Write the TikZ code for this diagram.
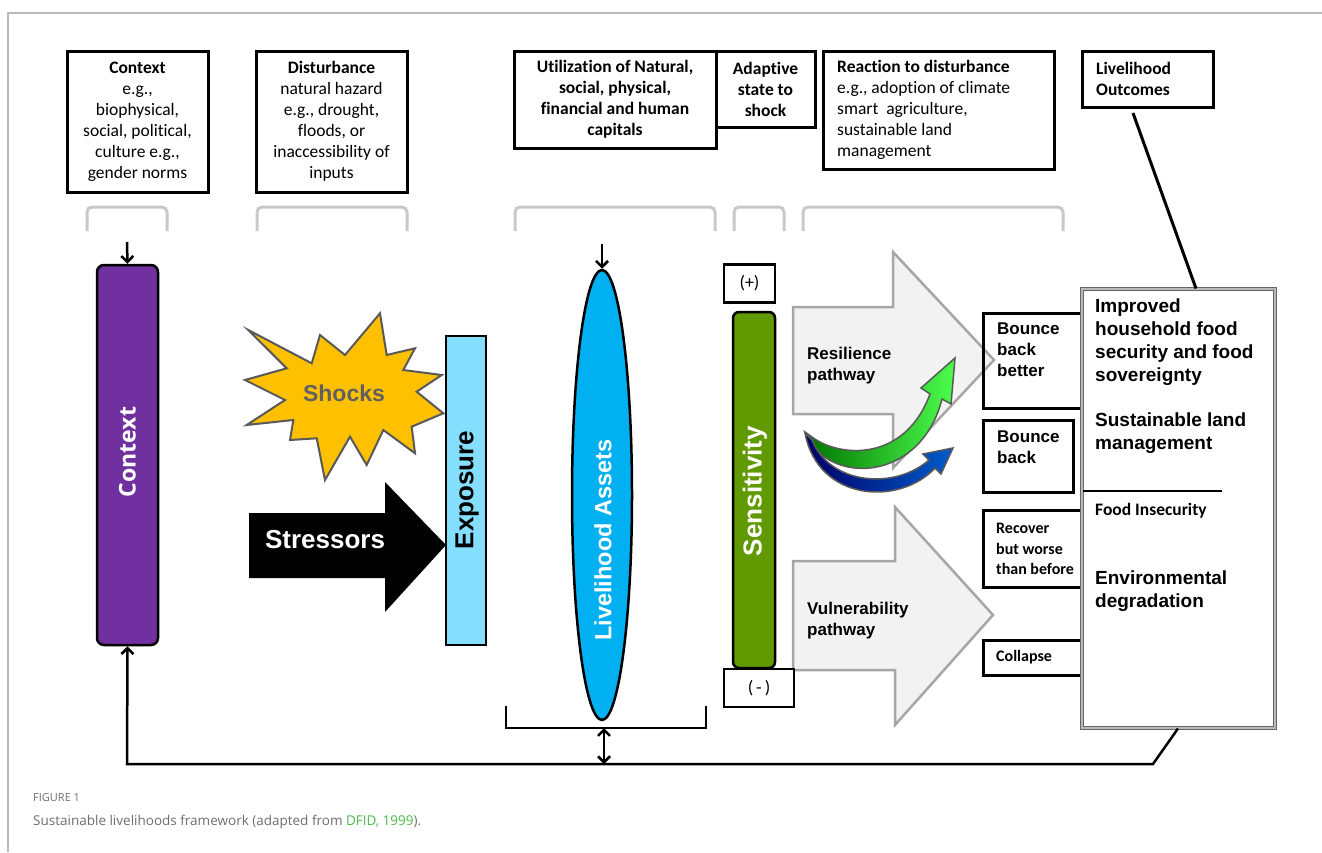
\documentclass[tikz,border=0pt]{standalone}
\usepackage{fontspec}
\setmainfont{Carlito}[Ligatures=NoCommon]
\newfontfamily\ari{Liberation Sans}
\newfontfamily\osn{Open Sans}
\usetikzlibrary{shapes.geometric,arrows.meta}
\definecolor{purp}{HTML}{7030A0}
\definecolor{skyb}{HTML}{00B0F0}
\definecolor{lblue}{HTML}{84DFFE}
\definecolor{olive}{HTML}{609A00}
\definecolor{shockc}{HTML}{FFC000}
\definecolor{pathfill}{HTML}{F2F2F2}
\definecolor{pathdraw}{HTML}{A6A6A6}
\definecolor{brk}{HTML}{C8C8C8}
\definecolor{capgray}{HTML}{6E6E6E}
\definecolor{capgreen}{HTML}{4DB848}
\begin{document}
\begin{tikzpicture}[x=1pt,y=-1pt,
  tbox/.style={draw=black,line width=3pt,inner sep=0pt,font=\fontsize{17.5}{21}\selectfont,align=center},
  ttext/.style={inner sep=0pt,font=\fontsize{17.5}{21}\selectfont,anchor=west,align=left},
  sbox/.style={draw=black,line width=3pt,inner sep=0pt},
  gbr/.style={draw=brk,line width=3pt,rounded corners=5pt},
  arr/.style={line width=2.5pt,-{Straight Barb[length=6pt,width=12pt]}},
  darr/.style={line width=2.5pt,{Straight Barb[length=6pt,width=12pt]}-{Straight Barb[length=6pt,width=12pt]}},
  bigpath/.style={fill=pathfill,draw=pathdraw,line width=2.5pt},
  arb/.style={font=\ari\bfseries\fontsize{17}{21}\selectfont,align=left,anchor=west,inner sep=0pt},
  cab/.style={font=\bfseries\fontsize{16}{20.5}\selectfont,align=left,anchor=west,inner sep=0pt},
  outt/.style={font=\ari\bfseries\fontsize{19}{23}\selectfont,align=left,anchor=west,inner sep=0pt}
]
\useasboundingbox (0,0) rectangle (1322,852);
% frame
\draw[gray!55,line width=1.2pt] (8,852) -- (8,13) -- (1322,13);

% top boxes
\node[tbox,minimum width=141pt,minimum height=141pt] (tctx) at (137.5,121.5)
  {\textbf{Context}\\e.g.,\\biophysical,\\social, political,\\culture e.g.,\\gender norms};
\node[tbox,minimum width=151pt,minimum height=141pt] (tdist) at (331.5,121.5)
  {\textbf{Disturbance}\\natural hazard\\e.g., drought,\\floods, or\\inaccessibility of\\inputs};
\node[tbox,minimum width=202pt,minimum height=97pt] (tutil) at (615,99.5)
  {\textbf{Utilization of Natural,}\\\textbf{social, physical,}\\\textbf{financial and human}\\\textbf{capitals}};
\node[tbox,minimum width=99pt,minimum height=76pt] (tadap) at (765.5,89)
  {\textbf{Adaptive}\\\textbf{state to}\\\textbf{shock}};
\node[tbox,minimum width=231pt,minimum height=118pt] (treac) at (938.5,110) {};
\node[ttext] (treact) at (837,110)
  {\textbf{Reaction to disturbance}\\e.g., adoption of climate\\smart\ \ agriculture,\\sustainable land\\management};
\node[tbox,minimum width=131pt,minimum height=56pt] (tout) at (1147.5,79) {};
\node[ttext] (toutt) at (1096,79) {\textbf{Livelihood}\\\textbf{Outcomes}};

% grey brackets
\draw[gbr] (87,231) -- (87,207) -- (167,207) -- (167,231);
\draw[gbr] (257,231) -- (257,207) -- (407,207) -- (407,231);
\draw[gbr] (515,231) -- (515,207) -- (715,207) -- (715,231);
\draw[gbr] (734,231) -- (734,207) -- (784,207) -- (784,231);
\draw[gbr] (803,231) -- (803,207) -- (1063,207) -- (1063,231);

% Context bar
\node[draw=black,line width=2.5pt,fill=purp,rounded corners=7pt,minimum width=61pt,minimum height=380pt,inner sep=0pt] (ctx) at (127.5,455) {};
\node[rotate=90,text=white,font=\osn\bfseries\fontsize{23}{26}\selectfont] at (127.5,452) {Context};
\coordinate (ctxin) at (127,242);
\draw[arr] (ctxin) -- (ctx.north);

% Shocks star
\draw[fill=shockc,draw=gray!70!black,line width=2pt,line join=miter]
 (248.3,330) -- (311.7,363.3) -- (320,335) -- (345,355) -- (380,313.3) -- (386.7,355)
 -- (415,348.3) -- (403.3,370) -- (441.7,375) -- (416.7,391.7) -- (443.3,413.3)
 -- (411.7,426.7) -- (415,453.3) -- (383.3,430) -- (366.7,465) -- (350,436.7)
 -- (325,480) -- (316.7,438.3) -- (290,440) -- (293.3,420) -- (246.7,425)
 -- (285,400) -- (245,380) -- (286.7,368.3) -- cycle;
\node[text=gray!75!black,font=\ari\bfseries\fontsize{23}{26}\selectfont] (shk) at (344,393) {Shocks};

% Stressors arrow
\fill[black] (249,513) -- (385,513) -- (385,482) -- (446,545) -- (385,612) -- (385,578) -- (249,578) -- cycle;
\node[text=white,font=\ari\bfseries\fontsize{26}{30}\selectfont] (str) at (325,540) {Stressors};

% Exposure
\node[draw=black,line width=2pt,fill=lblue,minimum width=40pt,minimum height=309pt,inner sep=0pt] (expo) at (466,490.5) {};
\node[rotate=90,font=\ari\bfseries\fontsize{26}{30}\selectfont] at (467,490) {Exposure};

% Livelihood assets
\node[ellipse,draw=black,line width=2.5pt,fill=skyb,minimum width=60pt,minimum height=450pt,inner sep=0pt] (asset) at (602,495) {};
\node[rotate=90,text=white,font=\ari\bfseries\fontsize{23.5}{27}\selectfont] at (603,540) {Livelihood Assets};
\coordinate (assin) at (602,244);
\draw[arr] (assin) -- (asset.north);
\draw[line width=2.5pt] (506,706) -- (506,728) -- (706,728) -- (706,706);
\coordinate (brkmid) at (604,728);
\coordinate (fbmid) at (604,764);
\draw[darr] (brkmid) -- (fbmid);

% Sensitivity
\node[draw=black,line width=2.5pt,fill=olive,rounded corners=6pt,minimum width=42pt,minimum height=356pt,inner sep=0pt] (sens) at (754,490) {};
\node[rotate=90,text=white,font=\ari\bfseries\fontsize{26}{30}\selectfont] at (755,491) {Sensitivity};

% pathways
\draw[bigpath] (793,307) -- (893,307) -- (893,252) -- (994,360) -- (893,468) -- (893,414) -- (793,414) -- cycle;
\node[arb] (resl) at (807,366) {Resilience\\pathway};
\draw[bigpath] (793,561) -- (895,561) -- (895,507) -- (993,615) -- (895,725) -- (895,670) -- (793,670) -- cycle;
\node[arb] (vuln) at (807,621) {Vulnerability\\pathway};

% (+) and (-)
\node[sbox,line width=2.5pt,minimum width=51pt,minimum height=38pt,font=\fontsize{18}{20}\selectfont] (plus) at (749.5,283.5) {(+)};
\node[sbox,line width=2.5pt,fill=white,minimum width=70pt,minimum height=38pt,font=\fontsize{18}{20}\selectfont] (minus) at (759,688) {(\,-\,)};

% curved arrows
\shade[left color=green!45!black,right color=green!70!white,draw=gray!70!black,line width=1.5pt]
 (805,432) .. controls (825,485) and (920,485) .. (942,399)
 -- (951,404) -- (955,358) -- (921,388) -- (930,394)
 .. controls (905,462) and (840,458) .. (812,437) -- cycle;
\shade[left color=blue!40!black,right color=blue!55!cyan!80!black,draw=gray!70!black,line width=1.5pt]
 (805,433) .. controls (818,502) and (900,506) .. (935,468)
 -- (941,474) -- (953,448) -- (923,454) -- (929,460)
 .. controls (895,490) and (830,485) .. (812,440) -- cycle;

% right small boxes
\node[sbox,minimum width=100pt,minimum height=95pt] (bbb) at (1033,360.5) {};
\node[arb] at (997,350) {Bounce\\back\\better};
\node[sbox,minimum width=90pt,minimum height=72pt] (bb) at (1028,456) {};
\node[arb] at (997,447) {Bounce\\back};
\node[sbox,minimum width=100pt,minimum height=77pt] (rec) at (1033,548.5) {};
\node[cab] at (996,549) {Recover\\but worse\\than before};
\node[sbox,minimum width=100pt,minimum height=35pt] (col) at (1033,657.5) {};
\node[cab] at (996,657) {Collapse};

% outcomes box
\node[draw=gray!80!black,line width=1pt,double=gray!55,double distance=1.5pt,fill=white,minimum width=193pt,minimum height=439pt,inner sep=0pt] (outc) at (1178.5,508.5) {};
\draw[line width=2.5pt] (1083,491) -- (1222,491);
\node[outt] at (1095,342) {Improved\\household food\\security and food\\sovereignty};
\node[outt] at (1095,433) {Sustainable land\\management};
\node[cab,font=\bfseries\fontsize{17.5}{21}\selectfont] at (1095,511) {Food Insecurity};
\node[outt] at (1095,591) {Environmental\\degradation};

% connector from outcomes label
\coordinate (outlab) at (1133,113);
\draw[line width=3pt] (outlab) -- (outc.north -| 1196,0);

% feedback loop
\coordinate (fbr) at (1153,764);
\draw[arr] (outc.south -| 1178,0) -- (fbr) -- (fbmid) -- (127,764) -- (ctx.south);

% caption
\node[anchor=west,inner sep=0pt,text=capgray,font=\osn\fontsize{11}{14}\selectfont] at (33,798) {FIGURE 1};
\node[anchor=west,inner sep=0pt,text=capgray,font=\osn\fontsize{13.5}{17}\selectfont] at (33,822) {Sustainable livelihoods framework (adapted from \textcolor{capgreen}{DFID, 1999}).};
\end{tikzpicture}
\end{document}
